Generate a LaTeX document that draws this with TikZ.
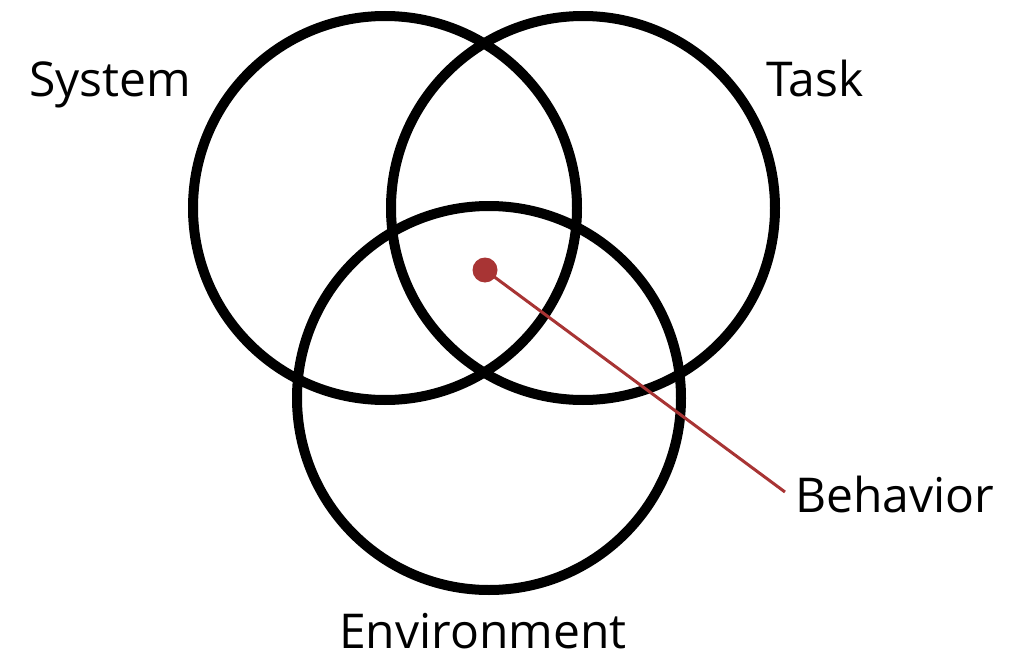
\documentclass[tikz,border=0pt]{standalone}
\usepackage{fontspec}
\setmainfont{Open Sans}
\definecolor{behred}{HTML}{A83434}
\begin{document}
\begin{tikzpicture}[x=1pt,y=-1pt,
  ring/.style={draw=black,line width=10pt,circle,minimum size=384pt,inner sep=0pt},
  lbl/.style={inner sep=0pt,font=\fontsize{48}{56}\selectfont},
  link/.style={draw=behred,line width=3pt}]
\useasboundingbox (0,0) rectangle (1029,661);
\node[ring] (sys) at (385,208) {};
\node[ring] (task) at (583,208) {};
\node[ring] (env) at (489,398) {};
\node[circle,fill=behred,minimum size=25pt,inner sep=0pt] (dot) at (485,270) {};
\coordinate (bend) at (785,492);
\draw[link] (dot.center) -- (bend);
\node[lbl,anchor=base west] (syslbl) at (29,97) {System};
\node[lbl,anchor=base west] (tasklbl) at (766,97) {Task};
\node[lbl,anchor=base west] (behlbl) at (795,512) {Behavior};
\node[lbl,anchor=base west] (envlbl) at (339,648) {Environment};
\end{tikzpicture}
\end{document}
